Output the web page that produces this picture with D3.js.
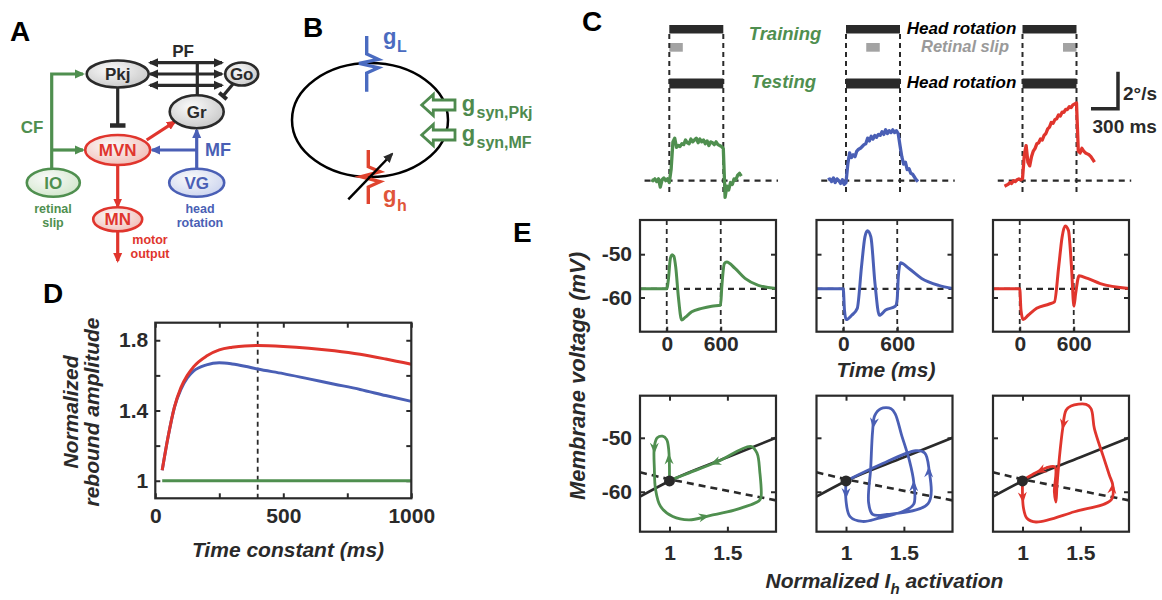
<!DOCTYPE html>
<html>
<head>
<meta charset="utf-8">
<script src="https://cdn.jsdelivr.net/npm/d3@7"></script>
<style>
  body { margin: 0; background: #fff; }
  svg { display: block; }
</style>
</head>
<body>
<svg id="fig" width="1162" height="600"></svg>
<script>
// ---------- data ----------
// panel C: eye velocity (deg/s) after training, one trace per model
const cTime = [-200,-180,-160,-140,-120,-100,-80,-60,-40,-20,0,20,40,60,80,100,120,140,160,180,200,220,240,260,280,300,320,340,360,380,400,420,440,460,480,500,520,540,560,580,600,620,640,660,680,700,720,740,760,780,800];
const cGreen = [0.05,0.0,0.1,-0.05,0.1,-0.35,0.05,0.15,0.0,0.1,-0.1,0.6,2.1,2.3,1.8,1.9,1.85,2.0,1.95,2.2,2.05,2.0,2.25,2.1,2.2,2.3,2.05,2.25,2.1,2.2,2.0,2.15,1.9,2.1,2.05,1.95,2.1,1.95,1.9,1.85,1.75,-0.9,-0.3,-0.5,-0.1,-0.2,0.1,0.05,0.3,0.4,0.25];
const cBlue = [0.05,0.1,-0.05,0.15,-0.1,0.1,0.0,-0.15,0.05,-0.2,-0.1,0.9,1.5,1.25,1.4,1.3,1.6,1.7,1.75,1.85,1.95,2.0,2.3,2.15,2.4,2.25,2.45,2.35,2.5,2.45,2.65,2.5,2.75,2.55,2.7,2.6,2.75,2.6,2.7,2.55,1.9,1.3,0.9,1.0,0.6,0.65,0.4,0.35,0.2,0.05,-0.05];
const cRed = [-0.3,-0.25,-0.2,-0.1,-0.15,0.0,-0.05,0.05,0.1,0.05,0.1,1.4,1.9,1.0,0.8,1.3,1.6,1.75,2.0,2.05,2.25,2.2,2.45,2.55,2.8,2.9,3.15,3.1,3.3,3.35,3.55,3.5,3.7,3.7,3.85,3.85,4.0,3.95,4.1,4.15,4.2,1.6,1.5,1.75,1.6,1.5,1.45,1.4,1.3,1.15,1.0];
const headRotation = [0, 600];
const slipWindows = [[0, 150], [225, 375], [450, 600]];

// panel D: normalized rebound amplitude vs Ih time constant
const tauMs = [27,50,75,100,125,150,200,250,300,350,400,500,600,700,800,900,1000];
const reboundRed = [1.06,1.25,1.42,1.53,1.6,1.65,1.71,1.745,1.76,1.768,1.77,1.765,1.755,1.74,1.72,1.693,1.663];
const reboundBlue = [1.06,1.25,1.42,1.52,1.585,1.625,1.66,1.672,1.665,1.652,1.636,1.61,1.58,1.55,1.52,1.485,1.452];
const reboundGreen = [1,1,1,1,1,1,1,1,1,1,1,1,1,1,1,1,1];
const tauMarker = 400;

// panel E (top): membrane voltage (mV) vs time (ms)
const vGreen = [[-297,-58],[0,-58],[20,-55.5],[40,-51],[60,-50.1],[80,-50.5],[100,-53],[130,-60],[166,-65.2],[204,-64.6],[278,-63.3],[389,-62.5],[500,-62.0],[598,-61.8],[612,-57.5],[640,-52.2],[667,-51.8],[759,-53.3],[870,-55.6],[1018,-57.2],[1214,-57.9]];
const vBlue = [[-297,-58],[0,-58],[14,-63],[33,-65.1],[94,-64.1],[156,-62.5],[203,-52.9],[241,-46],[269,-44.6],[307,-46],[353,-56.8],[401,-64.1],[471,-62.9],[580,-62],[599,-60.5],[612,-55.2],[636,-52],[730,-53.3],[871,-55.6],[1060,-57.2],[1214,-57.9]];
const vRed = [[-297,-58],[0,-58],[14,-63],[38,-65.1],[94,-64.1],[188,-62.5],[329,-61.5],[386,-61],[433,-52.9],[471,-46],[504,-43.5],[541,-44.5],[575,-52.9],[602,-62],[621,-59.1],[659,-55],[754,-55.6],[895,-56.8],[1214,-57.9]];
const stimEdges = [0, 600];
const restV = -58;

// panel E (bottom): phase plane, normalized Ih activation vs voltage
const loopGreen = [[1.0,-57.9],[0.993,-52.2],[0.975,-50.3],[0.94,-49.7],[0.894,-50.0],[0.869,-51.6],[0.869,-55.7],[0.879,-59.5],[0.922,-62.7],[1.028,-64.6],[1.17,-65.2],[1.348,-64.4],[1.56,-63.4],[1.773,-61.7],[1.79,-61.1],[1.78,-56.3],[1.755,-52.8],[1.702,-51.6],[1.418,-54.4],[1.17,-56.5],[1.0,-57.9]];
const loopBlue = [[1.0,-58.0],[1.0,-61.7],[1.035,-64.6],[1.142,-65.5],[1.284,-64.9],[1.496,-63.6],[1.585,-62.3],[1.585,-58.2],[1.55,-54.4],[1.479,-49.4],[1.426,-45.6],[1.39,-44.6],[1.3,-44.6],[1.248,-45.9],[1.23,-48.7],[1.213,-55.7],[1.195,-62.0],[1.23,-64.2],[1.355,-64.2],[1.709,-62.2],[1.716,-55.7],[1.68,-52.8],[1.603,-52.4],[1.284,-55.1],[1.0,-58.0]];
const loopRed = [[1.0,-57.96],[1.0,-60.6],[1.009,-63.1],[1.038,-64.9],[1.116,-65.6],[1.448,-63.7],[1.766,-61.5],[1.78,-58.8],[1.75,-56.9],[1.694,-53.2],[1.621,-48.3],[1.592,-44.6],[1.549,-43.8],[1.419,-44.1],[1.376,-44.9],[1.347,-48.3],[1.318,-53.8],[1.298,-58.8],[1.289,-61.9],[1.275,-60.0],[1.28,-55.4],[1.202,-55.6],[1.087,-56.8],[1.014,-57.7]];
// arrowheads: [segment index, fraction along segment]
const arrowsGreen = [[0,0.75],[5,0.15],[10,0.8],[18,0.14]];
const arrowsBlue = [[0,0.7],[13,0.6],[6,0.9],[19,0.95]];
const arrowsRed = [[1,0.3],[14,0.85],[6,0.9],[21,0.5]];
const vNullcline = [[0.745,-60.9],[1.0,-58.0],[1.5,-53.6],[1.92,-50.0]];
const ihNullcline = [[0.745,-56.4],[1.0,-57.7],[1.92,-61.6]];
const fixedPoint = [1, -58];

// ---------- setup ----------
const GREEN = "#4f8f4f", BLUE = "#4a5fb5", RED = "#e0352d", INK = "#2a2a2a", GRAY = "#a3a3a3";
const FONT = '"Liberation Sans", Arial, Helvetica, sans-serif';
const svg = d3.select("#fig").attr("font-family", FONT).attr("font-weight", "bold");
const defs = svg.append("defs");

function marker(id, color) {
  defs.append("marker").attr("id", id)
    .attr("viewBox", "0 0 10 10").attr("refX", 8).attr("refY", 5)
    .attr("markerWidth", 10).attr("markerHeight", 10)
    .attr("markerUnits", "userSpaceOnUse").attr("orient", "auto-start-reverse")
    .append("path").attr("d", "M0,0.5 L10,5 L0,9.5 Z").attr("fill", color);
}
marker("mInk", INK); marker("mGreen", GREEN); marker("mBlue", BLUE); marker("mRed", RED);

function grad(id, edge) {
  const g = defs.append("radialGradient").attr("id", id)
    .attr("cx", "40%").attr("cy", "35%").attr("r", "75%");
  g.append("stop").attr("offset", "0%").attr("stop-color", "#fafafa");
  g.append("stop").attr("offset", "100%").attr("stop-color", edge);
}
grad("gGray", "#c4c4c4"); grad("gRed", "#f1b9b1"); grad("gGreen", "#cfe5c8"); grad("gBlue", "#c8d1ee");

function label(x, y, txt, size, opts = {}) {
  return svg.append("text").attr("x", x).attr("y", y).text(txt)
    .attr("font-size", size)
    .attr("fill", opts.fill || INK)
    .attr("text-anchor", opts.anchor || "start")
    .attr("font-style", opts.italic ? "italic" : null);
}

// panel letters
[["A",10,41],["B",303,37],["C",582,31],["D",43,303],["E",513,242]]
  .forEach(([t, x, y]) => label(x, y, t, 28, { fill: "#000" }));

// ---------- panel A: circuit ----------
const gA = svg.append("g");
const seg = (x1, y1, x2, y2, color, mk, w = 3.2) => {
  const l = gA.append("line").attr("x1", x1).attr("y1", y1).attr("x2", x2).attr("y2", y2)
    .attr("stroke", color).attr("stroke-width", w);
  if (mk) l.attr("marker-end", `url(#${mk})`);
  return l;
};
// parallel fibres
[62.7, 74, 85.3].forEach(y => seg(150, y, 222, y, INK, "mInk").attr("marker-start", "url(#mInk)"));
seg(197.3, 62.7, 197.3, 96, INK);
// inhibitory synapses
seg(233, 84, 223, 96, INK);
seg(219.2, 92.8, 226.8, 99.2, INK, null, 4);
seg(117.7, 87.5, 117.7, 125, INK);
seg(110, 125.5, 125.5, 125.5, INK, null, 4.5);
// climbing fibre
gA.append("path").attr("d", "M51.7,169 V74 H83").attr("fill", "none")
  .attr("stroke", GREEN).attr("stroke-width", 3.2).attr("marker-end", "url(#mGreen)");
seg(51.7, 150, 83, 150, GREEN, "mGreen");
// mossy fibre
seg(196.7, 169, 196.7, 130, BLUE, "mBlue");
seg(196.7, 150, 152, 150, BLUE, "mBlue");
// MVN outputs
seg(146.7, 140, 175, 121.7, RED, "mRed");
seg(117.7, 165, 117.7, 206.5, RED, "mRed");
seg(117.7, 231.5, 117.7, 261, RED, "mRed");

const nodes = [
  { id: "Pkj", x: 117.7, y: 74, rx: 31, ry: 13.5, stroke: INK, fill: "gGray", text: INK },
  { id: "Go", x: 241.7, y: 74, rx: 16.5, ry: 11.5, stroke: INK, fill: "gGray", text: INK },
  { id: "Gr", x: 196.7, y: 111.7, rx: 27, ry: 16.5, stroke: INK, fill: "gGray", text: INK },
  { id: "MVN", x: 117.7, y: 150, rx: 32.5, ry: 15, stroke: RED, fill: "gRed", text: RED },
  { id: "IO", x: 53.3, y: 182.7, rx: 26.5, ry: 14, stroke: GREEN, fill: "gGreen", text: GREEN },
  { id: "VG", x: 196.7, y: 182.7, rx: 27.5, ry: 14, stroke: BLUE, fill: "gBlue", text: BLUE },
  { id: "MN", x: 117.7, y: 219.3, rx: 24.5, ry: 12, stroke: RED, fill: "gRed", text: RED }
];
nodes.forEach(n => {
  gA.append("ellipse").attr("cx", n.x).attr("cy", n.y).attr("rx", n.rx).attr("ry", n.ry)
    .attr("fill", `url(#${n.fill})`).attr("stroke", n.stroke).attr("stroke-width", 2.6);
  label(n.x, n.y + 6, n.id, 17, { fill: n.text, anchor: "middle" });
});
label(183, 57, "PF", 17, { anchor: "middle" });
label(32, 133, "CF", 17, { fill: GREEN, anchor: "middle" });
label(205, 156, "MF", 18, { fill: BLUE });
label(53, 213, "retinal", 12.5, { fill: GREEN, anchor: "middle" });
label(53, 226.5, "slip", 12.5, { fill: GREEN, anchor: "middle" });
label(200, 213, "head", 12.5, { fill: BLUE, anchor: "middle" });
label(200, 226.5, "rotation", 12.5, { fill: BLUE, anchor: "middle" });
label(150, 244, "motor", 12.5, { fill: RED, anchor: "middle" });
label(150, 257.5, "output", 12.5, { fill: RED, anchor: "middle" });

// ---------- panel B: single compartment ----------
const gB = svg.append("g");
gB.append("ellipse").attr("cx", 370).attr("cy", 120).attr("rx", 78).attr("ry", 57)
  .attr("fill", "none").attr("stroke", "#000").attr("stroke-width", 2.5);
const zig = d3.line();
const gLsym = [[366.7,36],[366.7,54],[378.3,59.3],[359,63.3],[378.3,67.7],[366.7,73],[366.7,91.7]];
const ghsym = [[368.3,150],[368.3,166.7],[380,171.7],[361,176.7],[380,181.7],[368.3,187],[368.3,204]];
gB.append("path").attr("d", zig(gLsym)).attr("fill", "none").attr("stroke", "#4a6bc0").attr("stroke-width", 3.4);
gB.append("path").attr("d", zig(ghsym)).attr("fill", "none").attr("stroke", "#e0442f").attr("stroke-width", 3.4);
gB.append("line").attr("x1", 348.3).attr("y1", 199.3).attr("x2", 392).attr("y2", 154)
  .attr("stroke", "#000").attr("stroke-width", 2.5).attr("marker-end", "url(#mInk)");
[105, 135].forEach(cy => {
  gB.append("path")
    .attr("d", `M421.7,${cy} L433.3,${cy - 10.5} V${cy - 5} H455 V${cy + 5} H433.3 V${cy + 10.5} Z`)
    .attr("fill", "#fff").attr("stroke", "#4e8a4e").attr("stroke-width", 2.8).attr("stroke-linejoin", "miter");
});
label(383, 44, "g", 22, { fill: "#4a6bc0" });
label(397, 51.7, "L", 16, { fill: "#4a6bc0" });
label(383, 201.7, "g", 22, { fill: "#e0553a" });
label(397, 210.7, "h", 16, { fill: "#e0553a" });
label(461.7, 111, "g", 22, { fill: "#4e8a4e" });
label(476.5, 118.3, "syn,Pkj", 16, { fill: "#4e8a4e" });
label(461.7, 141, "g", 22, { fill: "#4e8a4e" });
label(476.5, 148.3, "syn,MF", 16, { fill: "#4e8a4e" });

// ---------- panel C: behaviour ----------
const gC = svg.append("g");
const cZero = [669.3, 846, 1022.5];
const cSeries = [cGreen, cBlue, cRed];
const cColors = [GREEN, BLUE, RED];
const cy = d3.scaleLinear().domain([0, 2]).range([180.7, 143.7]);
cZero.forEach((x0, i) => {
  const x = d3.scaleLinear().domain([0, 600]).range([x0, x0 + 54]);
  // stimulus bars
  gC.append("rect").attr("x", x(headRotation[0])).attr("width", x(headRotation[1]) - x(headRotation[0]))
    .attr("y", 25).attr("height", 8.5).attr("fill", INK);
  gC.append("rect").attr("x", x(headRotation[0])).attr("width", x(headRotation[1]) - x(headRotation[0]))
    .attr("y", 78.5).attr("height", 10).attr("fill", INK);
  const sw = slipWindows[i];
  gC.append("rect").attr("x", x(sw[0])).attr("width", x(sw[1]) - x(sw[0]))
    .attr("y", 43).attr("height", 8.7).attr("fill", GRAY);
  stimEdges.forEach(t => gC.append("line").attr("x1", x(t)).attr("x2", x(t))
    .attr("y1", 34).attr("y2", 193).attr("stroke", INK).attr("stroke-width", 2).attr("stroke-dasharray", "5,4"));
  gC.append("line").attr("x1", x(-275)).attr("x2", x(1208)).attr("y1", cy(0)).attr("y2", cy(0))
    .attr("stroke", INK).attr("stroke-width", 2.2).attr("stroke-dasharray", "6,5");
  const line = d3.line().x((d, k) => x(cTime[k])).y(d => cy(d));
  gC.append("path").attr("d", line(cSeries[i])).attr("fill", "none")
    .attr("stroke", cColors[i]).attr("stroke-width", 3.3).attr("stroke-linejoin", "round");
  if (i === 2) {
    // scale bar: 2 deg/s, 300 ms
    const bx = x(1061), by = 108.7;
    const barH = cy(0) - cy(2), barW = x(300) - x(0);
    gC.append("path").attr("d", `M${bx},${by - barH} V${by} H${bx - barW}`)
      .attr("fill", "none").attr("stroke", INK).attr("stroke-width", 3.5);
  }
});
label(785, 40, "Training", 18.5, { fill: GREEN, anchor: "middle", italic: true });
label(961.5, 34, "Head rotation", 17, { fill: "#000", anchor: "middle", italic: true });
label(965, 52, "Retinal slip", 16.5, { fill: "#9a9a9a", anchor: "middle", italic: true });
label(783.5, 87.5, "Testing", 18.5, { fill: GREEN, anchor: "middle", italic: true });
label(961.5, 87.5, "Head rotation", 17, { fill: "#000", anchor: "middle", italic: true });
label(1123, 100, "2°/s", 19);
label(1092.5, 133, "300 ms", 19);

// ---------- shared axis styling ----------
function styleAxis(g, size) {
  g.attr("font-family", FONT).attr("font-size", size).attr("font-weight", "bold");
  g.select(".domain").remove();
  g.selectAll(".tick line").attr("stroke", INK).attr("stroke-width", 2);
  g.selectAll(".tick text").attr("fill", INK);
}
function box(g, x, y) {
  g.append("rect").attr("x", x.range()[0]).attr("y", y.range()[1])
    .attr("width", x.range()[1] - x.range()[0]).attr("height", y.range()[0] - y.range()[1])
    .attr("fill", "none").attr("stroke", INK).attr("stroke-width", 2.2);
}

// ---------- panel D ----------
const gD = svg.append("g");
const dx = d3.scaleLinear().domain([0, 1000]).range([155.3, 411.3]);
const dy = d3.scaleLinear().domain([0.9, 1.9]).range([498.3, 322.7]);
const dTicksX = [0, 250, 500, 750, 1000], dTicksY = [1, 1.2, 1.4, 1.6, 1.8];
gD.append("g").attr("transform", `translate(0,${dy.range()[0]})`)
  .call(d3.axisBottom(dx).tickValues(dTicksX).tickSize(-5).tickPadding(10)
    .tickFormat(d => (d % 500 === 0 ? String(d) : ""))).call(g => styleAxis(g, 21));
gD.append("g").attr("transform", `translate(0,${dy.range()[1]})`)
  .call(d3.axisTop(dx).tickValues(dTicksX).tickSize(-5).tickFormat("")).call(g => styleAxis(g, 21));
gD.append("g").attr("transform", `translate(${dx.range()[0]},0)`)
  .call(d3.axisLeft(dy).tickValues(dTicksY).tickSize(-5).tickPadding(7)
    .tickFormat(d => (Math.round(d * 10) % 4 === 2 ? String(+d.toFixed(1)) : ""))).call(g => styleAxis(g, 21));
gD.append("g").attr("transform", `translate(${dx.range()[1]},0)`)
  .call(d3.axisRight(dy).tickValues(dTicksY).tickSize(-5).tickFormat("")).call(g => styleAxis(g, 21));
gD.append("line").attr("x1", dx(tauMarker)).attr("x2", dx(tauMarker))
  .attr("y1", dy.range()[1]).attr("y2", dy.range()[0])
  .attr("stroke", INK).attr("stroke-width", 1.8).attr("stroke-dasharray", "5,4");
const dLine = d3.line().x((d, k) => dx(tauMs[k])).y(d => dy(d)).curve(d3.curveMonotoneX);
[[reboundGreen, GREEN], [reboundBlue, BLUE], [reboundRed, RED]].forEach(([s, c]) =>
  gD.append("path").attr("d", dLine(s)).attr("fill", "none").attr("stroke", c).attr("stroke-width", 3));
box(gD, dx, dy);
label(288, 556.7, "Time constant (ms)", 21, { anchor: "middle", italic: true });
svg.append("text").attr("transform", "translate(78,412) rotate(-90)").attr("text-anchor", "middle")
  .attr("font-size", 21).attr("font-style", "italic").attr("fill", INK).text("Normalized");
svg.append("text").attr("transform", "translate(99,412) rotate(-90)").attr("text-anchor", "middle")
  .attr("font-size", 21).attr("font-style", "italic").attr("fill", INK).text("rebound amplitude");

// ---------- panel E ----------
const gE = svg.append("g");
const eLeft = [640, 816.5, 993], eW = 136;
const eTraces = [vGreen, vBlue, vRed];
const eLoops = [loopGreen, loopBlue, loopRed];
const eArrows = [arrowsGreen, arrowsBlue, arrowsRed];
const eColors = [GREEN, BLUE, RED];

eLeft.forEach((left, i) => {
  // time course
  const tx = d3.scaleLinear().domain([-297, 1214]).range([left, left + eW]);
  const ty = d3.scaleLinear().domain([-67.9, -42.1]).range([331.7, 220]);
  const g1 = gE.append("g");
  g1.append("g").attr("transform", `translate(0,${ty.range()[0]})`)
    .call(d3.axisBottom(tx).tickValues(stimEdges).tickSize(-5).tickPadding(4).tickFormat(d => String(d)))
    .call(g => styleAxis(g, 21));
  g1.append("g").attr("transform", `translate(${left},0)`)
    .call(d3.axisLeft(ty).tickValues([-60, -50]).tickSize(-5).tickPadding(8)
      .tickFormat(d => (i === 0 ? String(d) : ""))).call(g => styleAxis(g, 21));
  g1.append("g").attr("transform", `translate(${left + eW},0)`)
    .call(d3.axisRight(ty).tickValues([-60, -50]).tickSize(-5).tickFormat("")).call(g => styleAxis(g, 21));
  stimEdges.forEach(t => g1.append("line").attr("x1", tx(t)).attr("x2", tx(t))
    .attr("y1", ty.range()[1]).attr("y2", ty.range()[0])
    .attr("stroke", INK).attr("stroke-width", 1.8).attr("stroke-dasharray", "5,4"));
  g1.append("line").attr("x1", tx.range()[0]).attr("x2", tx.range()[1]).attr("y1", ty(restV)).attr("y2", ty(restV))
    .attr("stroke", INK).attr("stroke-width", 2.2).attr("stroke-dasharray", "6,5");
  const tl = d3.line().x(d => tx(d[0])).y(d => ty(d[1])).curve(d3.curveMonotoneX);
  g1.append("path").attr("d", tl(eTraces[i])).attr("fill", "none")
    .attr("stroke", eColors[i]).attr("stroke-width", 3);
  box(g1, tx, ty);

  // phase plane
  const px = d3.scaleLinear().domain([0.745, 1.92]).range([left, left + eW]);
  const py = d3.scaleLinear().domain([-67.4, -42.2]).range([531.7, 395.7]);
  const g2 = gE.append("g");
  g2.append("g").attr("transform", `translate(0,${py.range()[0]})`)
    .call(d3.axisBottom(px).tickValues([1, 1.5]).tickSize(-5).tickPadding(13).tickFormat(d => String(d)))
    .call(g => styleAxis(g, 21));
  g2.append("g").attr("transform", `translate(0,${py.range()[1]})`)
    .call(d3.axisTop(px).tickValues([1, 1.5]).tickSize(-5).tickFormat("")).call(g => styleAxis(g, 21));
  g2.append("g").attr("transform", `translate(${left},0)`)
    .call(d3.axisLeft(py).tickValues([-60, -50]).tickSize(-5).tickPadding(8)
      .tickFormat(d => (i === 0 ? String(d) : ""))).call(g => styleAxis(g, 21));
  g2.append("g").attr("transform", `translate(${left + eW},0)`)
    .call(d3.axisRight(py).tickValues([-60, -50]).tickSize(-5).tickFormat("")).call(g => styleAxis(g, 21));
  const pl = d3.line().x(d => px(d[0])).y(d => py(d[1]));
  g2.append("path").attr("d", pl.curve(d3.curveMonotoneX)(vNullcline)).attr("fill", "none")
    .attr("stroke", INK).attr("stroke-width", 2.6);
  g2.append("path").attr("d", pl.curve(d3.curveLinear)(ihNullcline)).attr("fill", "none")
    .attr("stroke", INK).attr("stroke-width", 2.6).attr("stroke-dasharray", "7,5");
  const loop = eLoops[i];
  g2.append("path").attr("d", pl.curve(d3.curveCatmullRom.alpha(0.5))(loop)).attr("fill", "none")
    .attr("stroke", eColors[i]).attr("stroke-width", 2.8).attr("stroke-linejoin", "round");
  eArrows[i].forEach(([k, f]) => {
    const a = loop[k], b = loop[k + 1];
    const ax = px(a[0]), ay = py(a[1]), bx = px(b[0]), by = py(b[1]);
    const len = Math.hypot(bx - ax, by - ay);
    const ux = (bx - ax) / len, uy = (by - ay) / len;
    const tipX = ax + (bx - ax) * f + ux * 4, tipY = ay + (by - ay) * f + uy * 4;
    const L = 11, W = 4.5, N = 7.5;
    const pts = [
      [tipX, tipY],
      [tipX - ux * L - uy * W, tipY - uy * L + ux * W],
      [tipX - ux * N, tipY - uy * N],
      [tipX - ux * L + uy * W, tipY - uy * L - ux * W]
    ];
    g2.append("path").attr("d", d3.line()(pts) + "Z").attr("fill", eColors[i]);
  });
  g2.append("circle").attr("cx", px(fixedPoint[0])).attr("cy", py(fixedPoint[1])).attr("r", 5.5).attr("fill", INK);
  box(g2, px, py);
});
label(886, 376.7, "Time (ms)", 21, { anchor: "middle", italic: true });
const ihLabel = label(884.5, 588, "", 21, { anchor: "middle", italic: true });
ihLabel.append("tspan").text("Normalized I");
ihLabel.append("tspan").attr("dy", 6).attr("font-size", 15).text("h");
ihLabel.append("tspan").attr("dy", -6).text(" activation");
svg.append("text").attr("transform", "translate(584.5,376) rotate(-90)").attr("text-anchor", "middle")
  .attr("font-size", 22).attr("font-style", "italic").attr("fill", INK).text("Membrane voltage (mV)");
</script>
</body>
</html>
